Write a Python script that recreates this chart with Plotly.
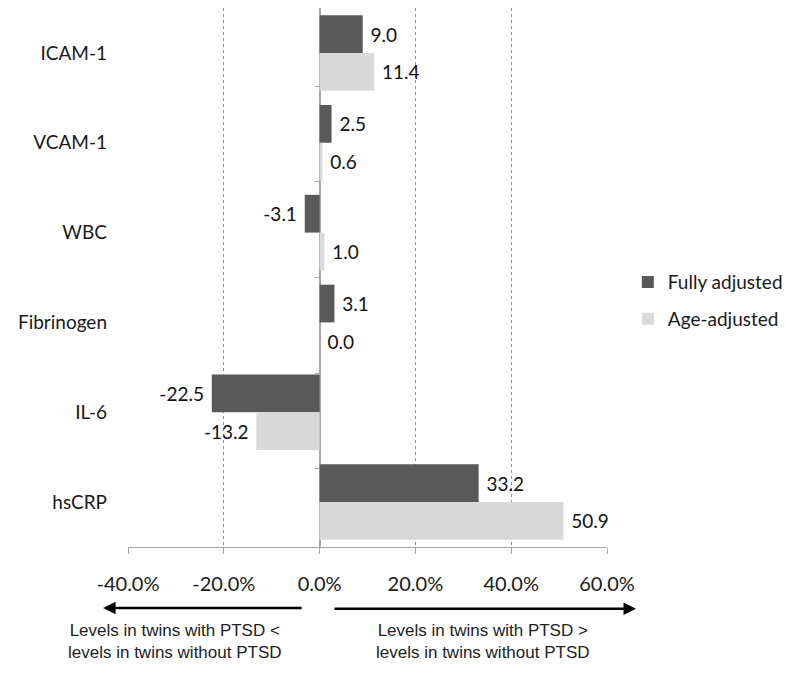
import plotly.graph_objects as go

categories = ["ICAM-1", "VCAM-1", "WBC", "Fibrinogen", "IL-6", "hsCRP"]
fully_adjusted = [9.0, 2.5, -3.1, 3.1, -22.5, 33.2]
age_adjusted = [11.4, 0.6, 1.0, 0.0, -13.2, 50.9]
x_ticks = [-40, -20, 0, 20, 40, 60]
x_tick_labels = ["-40.0%", "-20.0%", "0.0%", "20.0%", "40.0%", "60.0%"]
series_names = ["Fully adjusted", "Age-adjusted"]
left_note = "Levels in twins with PTSD <<br>levels in twins without PTSD"
right_note = "Levels in twins with PTSD ><br>levels in twins without PTSD"

DARK = "#595959"
LIGHT = "#d9d9d9"
LABEL_FONT = "Lato"


def label_texts(vals):
    return [f" {v:.1f}" if v >= 0 else f"{v:.1f} " for v in vals]


fig = go.Figure()
for name, vals, col in [(series_names[0], fully_adjusted, DARK),
                        (series_names[1], age_adjusted, LIGHT)]:
    fig.add_trace(go.Bar(
        y=categories, x=vals, name=name, orientation="h",
        legendgroup=name,
        marker=dict(color=col, line=dict(width=0)),
        text=label_texts(vals), textposition="outside",
        textfont=dict(family=LABEL_FONT, size=19, color="#111111"),
        cliponaxis=False,
    ))

# invisible helper trace for the category axis drawn at x = 0
fig.add_trace(go.Scatter(
    y=categories, x=[0] * len(categories), yaxis="y2", mode="markers",
    marker=dict(opacity=0), showlegend=False, hoverinfo="skip",
))

fig.update_layout(
    width=784, height=658,
    margin=dict(l=120, r=185, t=0, b=119),
    plot_bgcolor="white", paper_bgcolor="white",
    barmode="group", bargap=0.16, bargroupgap=0,
    font=dict(family=LABEL_FONT, color="#1a1a1a"),
    xaxis=dict(
        range=[x_ticks[0], x_ticks[-1]], tickvals=x_ticks,
        ticktext=x_tick_labels,
        tickfont=dict(family=LABEL_FONT, size=20, color="#1a1a1a"),
        ticks="outside", ticklen=6, tickcolor="#a6a6a6",
        showline=True, linecolor="#a6a6a6", linewidth=1,
        showgrid=True, gridcolor="#8c8c8c", griddash="dot", gridwidth=1,
        zeroline=True, zerolinecolor="#a6a6a6", zerolinewidth=1.5,
        ticklabelstandoff=13, automargin=False,
    ),
    yaxis=dict(
        type="category", categoryorder="array", categoryarray=categories,
        autorange="reversed", showgrid=False, zeroline=False,
        showline=False, ticks="",
        tickfont=dict(family=LABEL_FONT, size=19, color="#1a1a1a"),
        ticklabelstandoff=20, automargin=False,
    ),
    yaxis2=dict(
        type="category", categoryorder="array", categoryarray=categories,
        autorange="reversed", overlaying="y", anchor="free",
        position=0.4, side="left", showgrid=False, zeroline=False,
        showline=False, ticks="outside", ticklen=5, tickcolor="#a6a6a6",
        tickson="boundaries", showticklabels=False, automargin=False,
    ),
    legend=dict(
        x=1.0435, y=0.457, xanchor="left", yanchor="middle",
        font=dict(family=LABEL_FONT, size=19, color="#1a1a1a"),
        bgcolor="rgba(0,0,0,0)", tracegroupgap=9,
    ),
    showlegend=True,
)

# direction arrows
fig.add_annotation(xref="paper", yref="paper", x=-0.052, y=-0.1132,
                   ax=200, ay=0, showarrow=True, arrowhead=2, arrowsize=1,
                   arrowwidth=2.5, arrowcolor="#000000", text="")
fig.add_annotation(xref="paper", yref="paper", x=1.0605, y=-0.1145,
                   ax=-303, ay=0, showarrow=True, arrowhead=2, arrowsize=1,
                   arrowwidth=2.5, arrowcolor="#000000", text="")

note_font = dict(family="Liberation Sans", size=17, color="#222222")
fig.add_annotation(xref="paper", yref="paper", x=0.098, y=-0.175,
                   text=left_note, showarrow=False, font=note_font,
                   xanchor="center", yanchor="middle", align="center")
fig.add_annotation(xref="paper", yref="paper", x=0.741, y=-0.175,
                   text=right_note, showarrow=False, font=note_font,
                   xanchor="center", yanchor="middle", align="center")

fig.write_html("out.html")
